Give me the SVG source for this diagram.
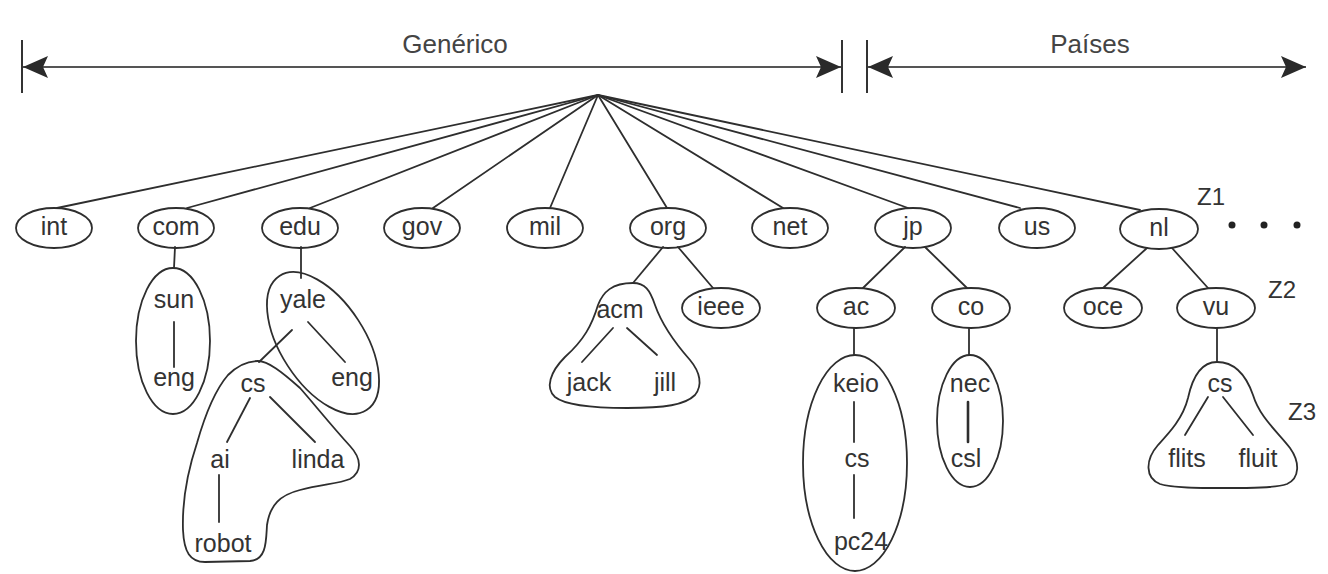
<svg xmlns="http://www.w3.org/2000/svg" width="1328" height="574" viewBox="0 0 1328 574">
<style>
.bg{fill:#ffffff}
.ln{stroke:#2e2e2e;stroke-width:1.8;fill:none;stroke-linecap:round}
.nd{stroke:#2e2e2e;stroke-width:1.8;fill:none}
.t{font-family:"Liberation Sans",Arial,sans-serif;font-size:25px;fill:#333;text-anchor:middle}
.h{font-family:"Liberation Sans",Arial,sans-serif;font-size:26px;fill:#444;text-anchor:middle}
.z{font-family:"Liberation Sans",Arial,sans-serif;font-size:24px;fill:#333;text-anchor:middle}
.ax{stroke:#555;stroke-width:2;fill:none}
.tk{stroke:#333;stroke-width:2;fill:none}
</style>
<defs>
<marker id="ah" markerWidth="26" markerHeight="24" refX="25" refY="12" orient="auto-start-reverse" markerUnits="userSpaceOnUse">
<path d="M0,1 L25,12 L0,23 L5,12 Z" fill="#2a2a2a"/>
</marker>
</defs>
<rect class="bg" x="0" y="0" width="1328" height="574"/>

<g id="header">
<line class="tk" x1="22" y1="40" x2="22" y2="93"/>
<line class="tk" x1="842" y1="40" x2="842" y2="93"/>
<line class="tk" x1="867" y1="40" x2="867" y2="93"/>
<line class="ax" x1="23" y1="67" x2="841" y2="67" marker-start="url(#ah)" marker-end="url(#ah)"/>
<line class="ax" x1="868" y1="67" x2="1306" y2="67" marker-start="url(#ah)" marker-end="url(#ah)"/>
<text class="h" x="455" y="53">Genérico</text>
<text class="h" x="1090" y="53">Países</text>
</g>

<g id="connectors">
<line class="ln" x1="598" y1="95" x2="57" y2="208"/>
<line class="ln" x1="598" y1="95" x2="187" y2="208"/>
<line class="ln" x1="598" y1="95" x2="310" y2="208"/>
<line class="ln" x1="598" y1="95" x2="433" y2="208"/>
<line class="ln" x1="598" y1="95" x2="550" y2="208"/>
<line class="ln" x1="598" y1="95" x2="667" y2="208"/>
<line class="ln" x1="598" y1="95" x2="783" y2="208"/>
<line class="ln" x1="598" y1="95" x2="908" y2="208"/>
<line class="ln" x1="598" y1="95" x2="1020" y2="208"/>
<line class="ln" x1="598" y1="95" x2="1140" y2="210"/>
<line class="ln" x1="175" y1="247" x2="174" y2="268"/>
<line class="ln" x1="174" y1="322" x2="174" y2="367"/>
<line class="ln" x1="301" y1="247" x2="301" y2="278"/>
<line class="ln" x1="308" y1="322" x2="345" y2="362"/>
<line class="ln" x1="292" y1="330" x2="259" y2="362"/>
<line class="ln" x1="250" y1="398" x2="227" y2="442"/>
<line class="ln" x1="270" y1="397" x2="315" y2="442"/>
<line class="ln" x1="219" y1="475" x2="219" y2="522"/>
<line class="ln" x1="663" y1="247" x2="633" y2="283"/>
<line class="ln" x1="678" y1="247" x2="713" y2="288"/>
<line class="ln" x1="613" y1="328" x2="582" y2="362"/>
<line class="ln" x1="627" y1="328" x2="657" y2="355"/>
<line class="ln" x1="905" y1="247" x2="863" y2="288"/>
<line class="ln" x1="925" y1="247" x2="967" y2="288"/>
<line class="ln" x1="854" y1="328" x2="854" y2="355"/>
<line class="ln" x1="969" y1="328" x2="969" y2="355"/>
<line class="ln" x1="854" y1="402" x2="854" y2="442"/>
<line class="ln" x1="854" y1="475" x2="854" y2="518"/>
<line class="ln" x1="968" y1="402" x2="968" y2="442" style="stroke-width:2.6"/>
<line class="ln" x1="1147" y1="248" x2="1103" y2="288"/>
<line class="ln" x1="1172" y1="248" x2="1208" y2="288"/>
<line class="ln" x1="1217" y1="328" x2="1217" y2="362"/>
<line class="ln" x1="1208" y1="397" x2="1185" y2="435"/>
<line class="ln" x1="1223" y1="397" x2="1253" y2="435"/>
</g>

<g id="n-int"><ellipse class="nd" cx="54" cy="228" rx="38" ry="20"/><text class="t" x="54" y="235">int</text></g>
<g id="n-com"><ellipse class="nd" cx="176" cy="228" rx="38" ry="20"/><text class="t" x="176" y="235">com</text></g>
<g id="n-edu"><ellipse class="nd" cx="300" cy="228" rx="38" ry="20"/><text class="t" x="300" y="235">edu</text></g>
<g id="n-gov"><ellipse class="nd" cx="422" cy="228" rx="38" ry="20"/><text class="t" x="422" y="235">gov</text></g>
<g id="n-mil"><ellipse class="nd" cx="545" cy="228" rx="38" ry="20"/><text class="t" x="545" y="235">mil</text></g>
<g id="n-org"><ellipse class="nd" cx="668" cy="228" rx="38" ry="20"/><text class="t" x="668" y="235">org</text></g>
<g id="n-net"><ellipse class="nd" cx="790" cy="228" rx="38" ry="20"/><text class="t" x="790" y="235">net</text></g>
<g id="n-jp"><ellipse class="nd" cx="913" cy="228" rx="38" ry="20"/><text class="t" x="913" y="235">jp</text></g>
<g id="n-us"><ellipse class="nd" cx="1037" cy="228" rx="38" ry="20"/><text class="t" x="1037" y="235">us</text></g>
<g id="n-nl"><ellipse class="nd" cx="1159" cy="229" rx="39" ry="20"/><text class="t" x="1159" y="236">nl</text></g>

<g id="z-labels">
<text class="z" x="1211" y="205">Z1</text>
<text class="z" x="1282" y="298">Z2</text>
<text class="z" x="1302" y="420">Z3</text>
<circle cx="1232" cy="225" r="3.5" fill="#222"/>
<circle cx="1264" cy="225" r="3.5" fill="#222"/>
<circle cx="1297" cy="225" r="3.5" fill="#222"/>
</g>

<g id="n-sun">
<ellipse class="nd" cx="173" cy="341" rx="37" ry="73"/>
<text class="t" x="174" y="308">sun</text>
<text class="t" x="174" y="386">eng</text>
</g>

<g id="n-yale">
<ellipse class="nd" cx="323" cy="343" rx="42" ry="80" transform="rotate(-33 323 343)"/>
<text class="t" x="303" y="308">yale</text>
<text class="t" x="352" y="386">eng</text>
</g>

<g id="n-cs-yale">
<path class="nd" d="M258,361 C268,361 282,372 300,388 C315,405 330,424 350,446 C362,459 362,472 350,479 C338,484 322,484 300,490 C280,495 270,505 267,525 C266,540 267,560 250,561 L205,562 C190,562 184,552 183,530 C182,500 188,470 197,443 C205,415 215,390 228,375 C238,365 248,361 258,361 Z"/>
<text class="t" x="253" y="392">cs</text>
<text class="t" x="220" y="468">ai</text>
<text class="t" x="318" y="468">linda</text>
<text class="t" x="223" y="552">robot</text>
</g>

<g id="n-acm">
<path class="nd" d="M633,283 C612,283 603,292 598,305 C592,325 584,340 565,357 C550,372 545,388 555,397 C565,405 590,408 627,408 C665,408 685,405 695,395 C703,385 700,372 690,360 C675,343 662,325 655,305 C650,290 645,283 633,283 Z"/>
<text class="t" x="620" y="318">acm</text>
<text class="t" x="589" y="391">jack</text>
<text class="t" x="665" y="391">jill</text>
</g>

<g id="n-ieee"><ellipse class="nd" cx="721" cy="308" rx="39" ry="20"/><text class="t" x="721" y="315">ieee</text></g>
<g id="n-ac"><ellipse class="nd" cx="856" cy="308" rx="39" ry="20"/><text class="t" x="856" y="315">ac</text></g>
<g id="n-co"><ellipse class="nd" cx="971" cy="308" rx="39" ry="20"/><text class="t" x="971" y="315">co</text></g>
<g id="n-oce"><ellipse class="nd" cx="1103" cy="308" rx="39" ry="20"/><text class="t" x="1103" y="315">oce</text></g>
<g id="n-vu"><ellipse class="nd" cx="1216" cy="308" rx="39" ry="20"/><text class="t" x="1216" y="315">vu</text></g>

<g id="n-keio">
<ellipse class="nd" cx="855" cy="463" rx="52" ry="108"/>
<text class="t" x="856" y="392">keio</text>
<text class="t" x="857" y="467">cs</text>
<text class="t" x="861" y="550">pc24</text>
</g>

<g id="n-nec">
<ellipse class="nd" cx="970" cy="421" rx="33" ry="66"/>
<text class="t" x="970" y="392">nec</text>
<text class="t" x="966" y="467">csl</text>
</g>

<g id="n-cs-vu">
<path class="nd" d="M1217,362 C1203,362 1193,375 1188,398 C1183,418 1170,432 1158,445 C1145,460 1145,478 1160,484 C1172,488 1200,488 1225,488 C1250,488 1275,488 1287,484 C1300,478 1300,462 1290,448 C1278,432 1260,418 1253,395 C1246,375 1235,362 1217,362 Z"/>
<text class="t" x="1220" y="392">cs</text>
<text class="t" x="1187" y="467">flits</text>
<text class="t" x="1258" y="467">fluit</text>
</g>
</svg>
